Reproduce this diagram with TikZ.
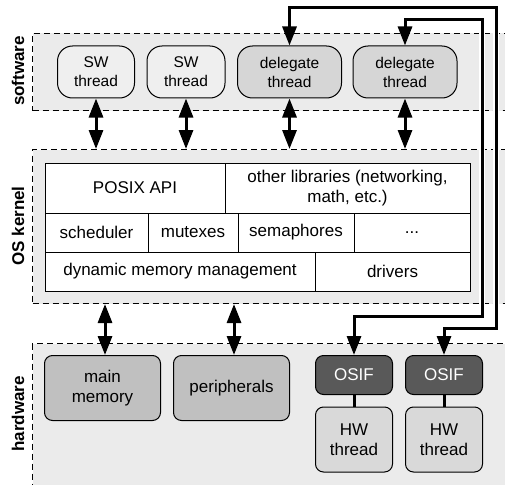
\documentclass[tikz,border=0pt]{standalone}
\usepackage{fontspec}
\setmainfont{Liberation Sans}
\usetikzlibrary{arrows.meta}
\definecolor{bandgray}{HTML}{EBEBEB}
\definecolor{swfill}{HTML}{EFEFEF}
\definecolor{delfill}{HTML}{D6D6D6}
\definecolor{memfill}{HTML}{C0C0C0}
\definecolor{osiffill}{HTML}{595959}
\definecolor{hwfill}{HTML}{D9D9D9}
\tikzset{
  band/.style={draw, dashed, dash pattern=on 6pt off 4pt, line width=1pt, fill=bandgray, anchor=north west, minimum width=520pt, inner sep=0pt},
  lbl/.style={rotate=90, font=\fontsize{17pt}{20pt}\selectfont\bfseries, inner sep=0pt},
  swnode/.style={draw, line width=1pt, rounded corners=15pt, minimum height=52pt, align=center, inner sep=0pt, font=\fontsize{15.5pt}{19pt}\selectfont},
  cell/.style={draw, line width=1pt, fill=white, inner sep=0pt, align=center, font=\fontsize{17pt}{20pt}\selectfont},
  hwnode/.style={draw, line width=1pt, rounded corners=8pt, inner sep=0pt, align=center, font=\fontsize{17pt}{20pt}\selectfont},
  tipx/.tip={Triangle[width=14pt,length=19pt]},
  dbl/.style={tipx-tipx, line width=3pt},
  longc/.style={tipx-tipx, line width=3pt, preaction={draw=white, line width=6pt, -, shorten <=12pt, shorten >=12pt}}
}
\begin{document}
\begin{tikzpicture}[x=1pt,y=-1pt]
\useasboundingbox (0,0) rectangle (505,484);
% bands
\node[band, minimum height=77pt] (swband) at (32,33) {};
\node[band, minimum height=154pt] (kband) at (32,149) {};
\node[band, minimum height=160pt] (hband) at (32,343) {};
% labels
\node[lbl] (lsw) at (18,71) {software};
\node[lbl] (lk) at (18,226) {OS kernel};
\node[lbl] (lhw) at (18,414) {hardware};
% software nodes
\node[swnode, fill=swfill, minimum width=77pt] (sw1) at (96,72) {SW\\thread};
\node[swnode, fill=swfill, minimum width=78pt] (sw2) at (186,72) {SW\\thread};
\node[swnode, fill=delfill, minimum width=104pt] (del1) at (289.5,72) {delegate\\thread};
\node[swnode, fill=delfill, minimum width=104pt] (del2) at (405,72) {delegate\\thread};
% kernel table
\node[cell, minimum width=180pt, minimum height=50pt] (posix) at (135,188) {POSIX API};
\node[cell, minimum width=245pt, minimum height=50pt] (other) at (347.5,188) {other libraries (networking,\\math, etc.)};
\node[cell, minimum width=103pt, minimum height=39pt] (sched) at (96.5,232.5) {scheduler};
\node[cell, minimum width=90pt, minimum height=39pt] (mutex) at (193,232.5) {mutexes};
\node[cell, minimum width=116pt, minimum height=39pt] (sema) at (296,232.5) {semaphores};
\node[cell, minimum width=116pt, minimum height=39pt] (dots) at (412,232.5) {...};
\node[cell, minimum width=270pt, minimum height=39pt] (dyn) at (180,271.5) {dynamic memory management};
\node[cell, minimum width=155pt, minimum height=39pt] (drv) at (392.5,271.5) {drivers};
% hardware nodes
\node[hwnode, fill=memfill, minimum width=116pt, minimum height=65pt] (mm) at (102.5,388) {main\\memory};
\node[hwnode, fill=memfill, minimum width=116pt, minimum height=65pt] (per) at (231.5,388) {peripherals};
\node[hwnode, fill=osiffill, text=white, minimum width=77pt, minimum height=39pt] (osif1) at (354,375) {OSIF};
\node[hwnode, fill=osiffill, text=white, minimum width=77pt, minimum height=39pt] (osif2) at (444,375) {OSIF};
\node[hwnode, fill=hwfill, minimum width=77pt, minimum height=65pt] (hw1) at (354,439.5) {HW\\thread};
\node[hwnode, fill=hwfill, minimum width=77pt, minimum height=65pt] (hw2) at (444,439.5) {HW\\thread};
\draw[line width=3pt] (osif1) -- (hw1);
\draw[line width=3pt] (osif2) -- (hw2);
% software <-> kernel
\draw[dbl] (sw1.south) -- (sw1.south |- kband.north);
\draw[dbl] (sw2.south) -- (sw2.south |- kband.north);
\draw[dbl] (del1.south) -- (del1.south |- kband.north);
\draw[dbl] (del2.south) -- (del2.south |- kband.north);
% kernel <-> hardware
\draw[dbl] ([xshift=2.5pt]mm.north |- kband.south) -- ([xshift=2.5pt]mm.north);
\draw[dbl] ([xshift=2.5pt]per.north |- kband.south) -- ([xshift=2.5pt]per.north);
% long connectors
\coordinate (t1) at (496,8);
\coordinate (b1) at (496,328);
\coordinate (t2) at (482,20);
\coordinate (b2) at (482,316);
\draw[longc] (del1.north) |- (t1) -- (b1) -| (osif2.north);
\draw[longc] (del2.north) |- (t2) -- (b2) -| (osif1.north);
\end{tikzpicture}
\end{document}
